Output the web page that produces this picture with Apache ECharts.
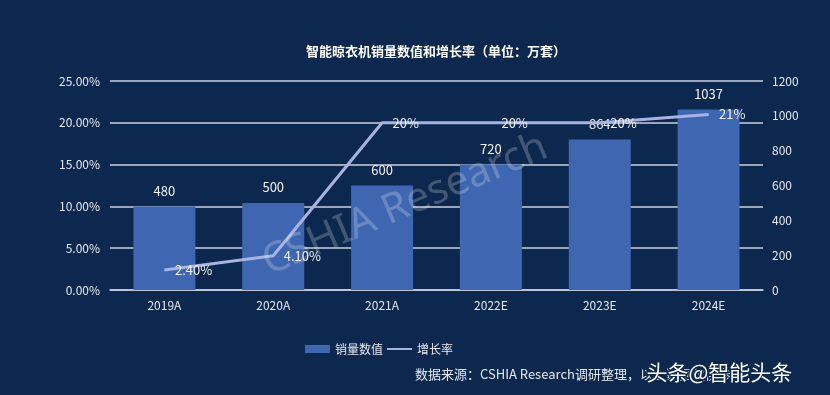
<!DOCTYPE html>
<html><head><meta charset="utf-8">
<script src="https://cdn.jsdelivr.net/npm/echarts@6/dist/echarts.min.js"></script>
<style>html,body{margin:0;padding:0;background:#0c284e;}#c{width:830px;height:395px;}</style>
</head><body><div id="c"></div>
<script>
const categories = ['2019A','2020A','2021A','2022E','2023E','2024E'];
const salesValues = [480, 500, 600, 720, 864, 1037];
const growthRates = [2.40, 4.10, 20, 20, 20, 21];
const growthLabels = ['2.40%','4.10%','20%','20%','20%','21%'];
const leftTicks = [0, 25, 5];
const rightTicks = [0, 1200, 200];

const font = "'Noto Sans CJK SC','Noto Sans',sans-serif";
const chart = echarts.init(document.getElementById('c'));
chart.setOption({
  backgroundColor: '#0c284e',
  textStyle: {fontFamily: font},
  title: {
    text: '智能晾衣机销量数值和增长率（单位：万套）',
    left: 301, top: 40,
    textStyle: {color: '#ffffff', fontSize: 13, fontWeight: 'bold', fontFamily: font}
  },
  legend: {
    left: 300, top: 338,
    itemWidth: 25, itemHeight: 8, itemGap: 3,
    textStyle: {color: '#e6e9f0', fontSize: 12, fontFamily: font},
    data: [{name: '销量数值', icon: 'rect'}, {name: '增长率', itemStyle: {opacity: 0}}]
  },
  grid: {left: 110, right: 67, top: 81, bottom: 105, containLabel: false},
  xAxis: {
    type: 'category', data: categories,
    axisLine: {show: true, lineStyle: {color: '#c9d0e0', width: 1.5}},
    axisTick: {show: false},
    axisLabel: {color: '#e6e9f0', fontSize: 12, margin: 9, fontFamily: font}
  },
  yAxis: [{
    type: 'value', min: leftTicks[0], max: leftTicks[1], interval: leftTicks[2],
    axisLine: {show: false}, axisTick: {show: false},
    axisLabel: {color: '#e6e9f0', fontSize: 12, margin: 10, formatter: v => v.toFixed(2) + '%', fontFamily: font},
    splitLine: {show: true, lineStyle: {color: '#c9d0e0', width: 1.5}}
  }, {
    type: 'value', min: rightTicks[0], max: rightTicks[1], interval: rightTicks[2],
    axisLine: {show: false}, axisTick: {show: false},
    axisLabel: {color: '#e6e9f0', fontSize: 12, margin: 9, formatter: v => String(v), fontFamily: font},
    splitLine: {show: false}
  }],
  series: [{
    name: '销量数值', type: 'bar', yAxisIndex: 1, data: salesValues,
    barWidth: 62,
    itemStyle: {color: '#3f66b0'},
    label: {show: true, position: 'top', distance: 9, color: '#f0f2f7', fontSize: 13, fontFamily: font}
  }, {
    name: '增长率', type: 'line', yAxisIndex: 0, data: growthRates,
    symbol: 'circle', symbolSize: 1,
    lineStyle: {color: '#a7b3e2', width: 3},
    itemStyle: {color: '#a7b3e2'},
    label: {show: true, position: 'right', distance: 10, color: '#f0f2f7', fontSize: 13, fontFamily: font,
      formatter: p => growthLabels[p.dataIndex]}
  }],
  graphic: [{
    type: 'text',
    x: 405, y: 205, rotation: 23 * Math.PI / 180,
    style: {text: 'CSHIA Research', fill: 'rgba(255,255,255,0.22)', font: "41px 'Noto Sans', sans-serif", align: 'center', verticalAlign: 'middle'},
    z: 100
  }, {
    type: 'text', left: 415, top: 368,
    style: {text: '数据来源：CSHIA Research调研整理，以上数据仅供参考', fill: '#e6e9f0', font: "13px 'Noto Sans CJK SC', sans-serif"},
    z: 100
  }, {
    type: 'text', left: 645, top: 360,
    style: {text: '头条@智能头条', fill: '#ffffff', font: "21px 'Noto Sans CJK SC', sans-serif", stroke: '#0c284e', lineWidth: 3},
    z: 101
  }]
});
</script></body></html>
